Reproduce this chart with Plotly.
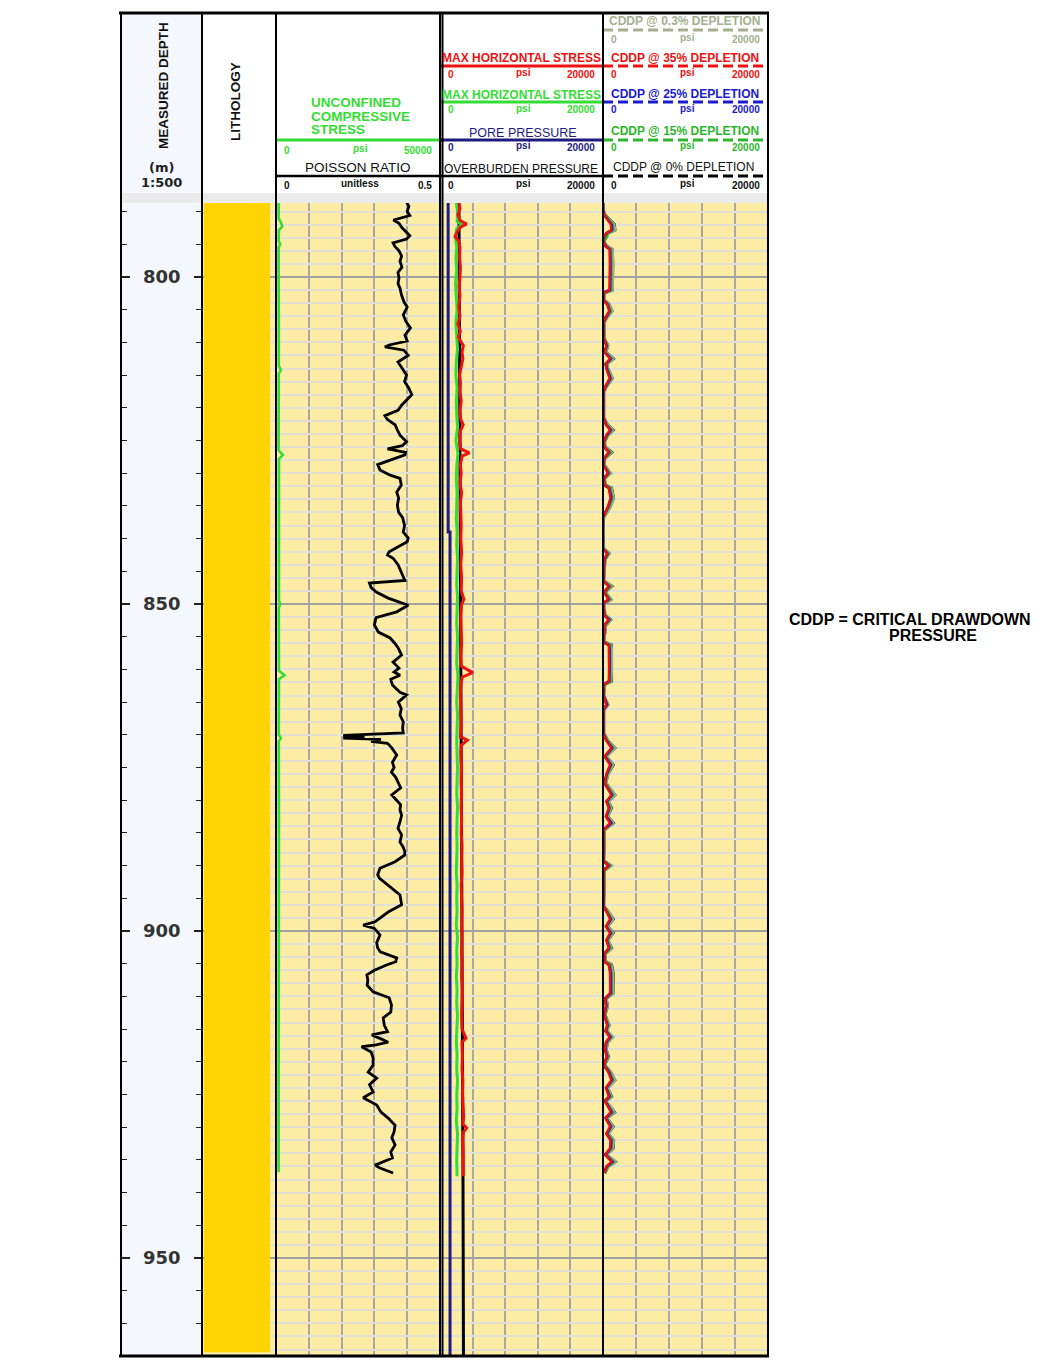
import plotly.graph_objects as go

# ---------------- data (read from the reference log) ----------------
# display window of the measured-depth axis (m)
depth_window = [788.69, 964.83]
depth_tick_major = 50
depth_tick_minor = 5

# lithology interval (single sand interval)
litho_top = [788.69]
litho_base = [964.4]

# Poisson ratio (unitless)
pr_depth = [788.5, 789.2, 790.0, 790.6, 791.3, 791.8, 792.4, 793.0, 793.7, 794.2,
            794.8, 795.3, 796.0, 796.8, 797.6, 798.5, 799.3, 800.2, 801.0, 801.7,
            802.8, 803.8, 804.6, 805.8, 806.8, 807.8, 808.9, 809.8, 810.4, 810.7,
            811.2, 812.0, 813.0, 814.0, 815.0, 816.0, 817.0, 818.0, 818.8, 819.6,
            820.4, 821.2, 821.8, 822.6, 823.4, 824.2, 825.2, 825.8, 826.3, 826.8,
            827.2, 828.0, 828.7, 829.5, 830.3, 830.8, 831.8, 832.9, 833.8, 834.9,
            836.0, 836.8, 838.0, 839.0, 839.9, 840.5, 841.0, 842.0, 842.5, 843.0,
            844.0, 845.0, 846.0, 846.4, 846.8, 847.5, 848.2, 849.1, 850.2, 851.2,
            852.1, 853.2, 854.3, 855.2, 856.0, 856.7, 857.8, 858.9, 859.8, 860.4,
            860.9, 861.5, 862.4, 863.5, 863.9, 865.0, 866.0, 867.0, 868.0, 869.0,
            869.7, 870.1, 870.3, 870.5, 870.7, 871.0, 871.3, 872.0, 873.1, 874.2,
            875.0, 875.7, 876.5, 877.2, 878.1, 879.2, 880.0, 880.7, 881.5, 882.3,
            883.3, 884.3, 885.3, 886.4, 887.2, 887.9, 888.4, 889.4, 890.4, 891.4,
            891.9, 893.0, 894.5, 896.0, 897.1, 898.6, 899.1, 899.6, 900.6, 901.8,
            902.6, 903.2, 904.1, 904.7, 905.2, 906.0, 906.7, 907.5, 908.3, 909.3,
            910.2, 911.3, 912.4, 913.3, 914.4, 915.4, 915.9, 916.5, 917.0, 917.4,
            917.7, 918.5, 919.4, 920.5, 921.6, 922.5, 923.5, 924.6, 925.5, 926.6,
            927.7, 928.6, 929.7, 930.7, 931.6, 932.7, 933.8, 934.7, 935.8, 936.2,
            937.0]
pr_value = [0.398, 0.405, 0.400, 0.408, 0.358, 0.375, 0.383, 0.395, 0.408, 0.398,
            0.357, 0.362, 0.375, 0.383, 0.378, 0.384, 0.372, 0.375, 0.372, 0.378,
            0.383, 0.390, 0.400, 0.388, 0.396, 0.410, 0.393, 0.400, 0.345, 0.332,
            0.390, 0.403, 0.372, 0.385, 0.398, 0.392, 0.405, 0.414, 0.398, 0.383,
            0.372, 0.332, 0.340, 0.363, 0.370, 0.378, 0.398, 0.385, 0.340, 0.395,
            0.393, 0.350, 0.310, 0.317, 0.348, 0.378, 0.382, 0.368, 0.374, 0.370,
            0.374, 0.386, 0.392, 0.388, 0.403, 0.400, 0.383, 0.345, 0.340, 0.357,
            0.372, 0.380, 0.388, 0.393, 0.285, 0.290, 0.307, 0.342, 0.403, 0.368,
            0.305, 0.300, 0.312, 0.348, 0.362, 0.372, 0.383, 0.357, 0.375, 0.360,
            0.378, 0.350, 0.355, 0.378, 0.398, 0.373, 0.382, 0.378, 0.388, 0.386,
            0.388, 0.205, 0.270, 0.205, 0.320, 0.290, 0.340, 0.353, 0.368, 0.355,
            0.360, 0.352, 0.365, 0.372, 0.380, 0.353, 0.368, 0.380, 0.378, 0.383,
            0.378, 0.372, 0.383, 0.378, 0.388, 0.393, 0.392, 0.363, 0.317, 0.310,
            0.315, 0.342, 0.378, 0.383, 0.342, 0.302, 0.266, 0.300, 0.317, 0.307,
            0.310, 0.318, 0.368, 0.365, 0.337, 0.300, 0.277, 0.280, 0.278, 0.296,
            0.345, 0.352, 0.350, 0.327, 0.330, 0.340, 0.292, 0.320, 0.342, 0.305,
            0.261, 0.290, 0.296, 0.296, 0.281, 0.307, 0.285, 0.296, 0.266, 0.307,
            0.320, 0.342, 0.363, 0.360, 0.353, 0.363, 0.350, 0.355, 0.302, 0.315,
            0.357]

# Unconfined compressive stress (psi)
ucs_depth = [788.7, 791.0, 791.8, 792.3, 792.8, 794.5, 795.0, 795.5, 805.0, 810.0,
             813.6, 814.2, 814.8, 826.5, 827.2, 827.8, 840.0, 849.5, 850.0, 850.5,
             860.2, 860.9, 861.5, 870.0, 870.5, 871.0, 883.0, 890.0, 895.0, 900.0,
             910.0, 920.0, 930.0, 936.9]
ucs_psi = [800, 800, 1600, 1900, 900, 800, 1300, 800, 850, 800,
           850, 1500, 850, 800, 2100, 900, 850, 900, 1400, 850,
           900, 2600, 900, 850, 1500, 850, 900, 850, 900, 850,
           800, 850, 800, 800]

# Pore pressure (psi)
pp_depth = [788.69, 839.0, 839.0, 964.83]
pp_psi = [1000, 1000, 1230, 1230]

# Overburden pressure (psi)
ob_depth = [788.69, 810.0, 840.0, 870.0, 900.0, 937.0, 964.83]
ob_psi = [2320, 2400, 2500, 2600, 2700, 2820, 2880]

# Max horizontal stress - red curve (psi)
shr_depth = [788.7, 789.5, 790.5, 791.4, 791.9, 792.4, 793.0, 793.8, 794.5, 795.5,
             797.0, 798.5, 800.0, 801.5, 803.0, 804.5, 806.0, 807.2, 808.3, 809.2,
             810.5, 811.5, 812.5, 813.5, 815.0, 816.2, 817.5, 819.0, 820.5, 821.8,
             822.6, 823.5, 825.0, 826.3, 826.9, 827.4, 828.7, 830.0, 831.5, 833.0,
             834.5, 836.0, 838.0, 840.0, 842.0, 844.0, 846.0, 848.0, 849.3, 850.0,
             852.0, 854.0, 856.0, 858.0, 859.5, 860.5, 861.2, 862.5, 864.0, 866.0,
             868.0, 870.3, 870.8, 871.6, 873.0, 875.0, 877.0, 879.0, 881.0, 883.0,
             885.0, 887.0, 889.0, 891.0, 893.0, 895.0, 897.0, 899.0, 901.0, 903.0,
             905.0, 907.0, 909.0, 911.0, 913.0, 915.0, 916.4, 917.0, 919.0, 921.0,
             923.0, 925.0, 927.0, 928.5, 929.5, 930.1, 930.8, 932.0, 934.0, 936.0,
             937.5]
shr_psi = [2300, 2450, 2200, 2500, 3270, 2500, 2150, 1840, 2300, 2450,
           2400, 2500, 2450, 2350, 2450, 2300, 2450, 2200, 2500, 2250,
           2860, 2700, 2800, 2650, 2400, 2500, 2450, 2600, 2450, 2550,
           2850, 2500, 2450, 2550, 3600, 2700, 2500, 2600, 2450, 2650,
           2500, 2550, 2600, 2550, 2650, 2550, 2650, 2600, 2940, 2650,
           2550, 2600, 2650, 2550, 2600, 4010, 2700, 2550, 2500, 2550,
           2600, 2500, 3350, 2600, 2550, 2650, 2600, 2650, 2600, 2650,
           2600, 2700, 2650, 2700, 2600, 2650, 2700, 2650, 2700, 2650,
           2700, 2650, 2750, 2700, 2650, 2700, 3190, 2700, 2750, 2700,
           2800, 2750, 2850, 2900, 2800, 3270, 2850, 2800, 2850, 2800,
           2850]

# Max horizontal stress - green curve (psi)
shg_depth = [788.7, 790.0, 791.5, 792.0, 792.6, 794.0, 795.5, 797.0, 799.0, 801.0,
             803.0, 805.0, 807.0, 809.0, 811.0, 813.0, 815.0, 817.0, 819.0, 821.0,
             823.0, 825.0, 827.0, 829.0, 831.0, 833.0, 835.0, 837.0, 839.0, 841.0,
             843.0, 845.0, 847.0, 849.0, 851.0, 853.0, 855.0, 857.0, 859.0, 861.0,
             863.0, 865.0, 867.0, 869.0, 871.0, 873.0, 875.0, 877.0, 879.0, 881.0,
             883.0, 885.0, 887.0, 889.0, 891.0, 893.0, 895.0, 897.0, 899.0, 901.0,
             903.0, 905.0, 907.0, 909.0, 911.0, 913.0, 915.0, 917.0, 919.0, 921.0,
             923.0, 925.0, 927.0, 929.0, 931.0, 933.0, 935.0, 937.5]
shg_psi = [2000, 2150, 2100, 2700, 2050, 1900, 2050, 1950, 2050, 1900,
           2000, 2100, 1950, 2050, 2150, 2000, 1950, 2100, 2000, 2050,
           2150, 1950, 2200, 2050, 2000, 2100, 2050, 2000, 2100, 2050,
           2150, 2100, 2050, 2150, 2100, 2050, 2150, 2100, 2050, 2200,
           2100, 2050, 2150, 2100, 2050, 2100, 2150, 2100, 2050, 2150,
           2100, 2050, 2100, 2050, 2000, 2100, 2050, 2100, 2000, 2150,
           2050, 2100, 2000, 2100, 2050, 2150, 2050, 2000, 2100, 2050,
           2150, 2050, 2100, 2000, 2150, 2100, 2050, 2100]

# Critical drawdown pressure curves (psi)
cddp_depth = [788.7, 789.8, 790.5, 791.3, 792.0, 792.8, 793.3, 793.8, 794.6, 795.3,
              795.8, 798.0, 800.0, 802.0, 802.4, 803.5, 804.2, 805.2, 806.2, 807.0,
              809.5, 810.5, 811.5, 812.5, 813.3, 814.0, 815.5, 816.8, 817.6, 821.5,
              822.6, 823.4, 824.2, 825.2, 826.0, 826.8, 827.7, 828.7, 830.0, 830.8,
              831.8, 832.3, 833.8, 835.1, 836.2, 836.8, 841.5, 842.3, 843.2, 846.5,
              847.3, 848.2, 849.3, 849.9, 851.7, 852.4, 853.2, 855.8, 856.3, 857.0,
              860.0, 861.8, 862.3, 864.0, 865.4, 866.2, 869.8, 870.9, 872.0, 873.3,
              874.6, 876.0, 877.4, 879.2, 880.2, 881.2, 882.5, 883.5, 884.5, 889.3,
              890.0, 890.7, 896.2, 897.2, 898.2, 899.3, 900.3, 901.4, 902.6, 903.5,
              904.7, 905.2, 906.5, 909.5, 910.3, 911.5, 912.8, 914.4, 915.3, 916.2,
              917.0, 918.2, 919.2, 920.5, 921.6, 922.8, 924.0, 925.3, 926.0, 926.8,
              927.7, 928.6, 929.9, 931.0, 932.0, 933.2, 934.2, 935.3, 936.0, 937.0]
cddp_35 = [0, 0, 150, 600, 950, 1000, 400, 100, 50, 300,
           800, 820, 800, 780, 100, 50, 500, 750, 300, 50,
           100, 400, 200, 850, 300, 400, 800, 250, 50, 50,
           350, 850, 400, 100, 150, 700, 150, 50, 600, 100,
           150, 700, 900, 600, 200, 0, 0, 500, 150, 50,
           700, 150, 650, 50, 150, 650, 200, 50, 700, 720,
           730, 700, 100, 50, 400, 50, 50, 400, 1000, 200,
           850, 400, 200, 1000, 400, 700, 350, 850, 100, 50,
           650, 100, 50, 500, 850, 350, 850, 400, 700, 150,
           200, 700, 850, 860, 250, 350, 150, 500, 300, 800,
           350, 250, 450, 100, 650, 1000, 350, 700, 200, 600,
           950, 300, 850, 400, 900, 850, 250, 1050, 400, 150]
cddp_25 = [0, 0, 150, 650, 1050, 1100, 450, 150, 50, 350,
           850, 900, 850, 850, 100, 50, 550, 800, 350, 50,
           100, 450, 200, 950, 350, 450, 900, 300, 50, 50,
           400, 950, 450, 100, 150, 750, 150, 50, 650, 100,
           150, 750, 1000, 650, 200, 0, 0, 550, 150, 50,
           750, 150, 700, 50, 150, 750, 200, 50, 750, 800,
           800, 750, 100, 50, 500, 50, 50, 450, 1100, 250,
           950, 450, 200, 1100, 450, 750, 400, 1000, 100, 50,
           700, 100, 50, 550, 950, 400, 950, 450, 750, 150,
           200, 750, 950, 950, 300, 400, 150, 550, 350, 900,
           400, 300, 500, 100, 750, 1100, 400, 800, 250, 650,
           1050, 350, 950, 450, 1000, 950, 300, 1150, 450, 150]
cddp_15 = [0, 0, 200, 700, 1150, 1200, 500, 500, 100, 350,
           950, 980, 950, 950, 150, 50, 600, 900, 350, 50,
           150, 500, 250, 1000, 350, 500, 950, 300, 50, 50,
           400, 1000, 500, 150, 200, 850, 200, 50, 700, 150,
           200, 850, 1100, 700, 250, 0, 0, 600, 200, 50,
           850, 200, 800, 50, 200, 800, 250, 50, 850, 850,
           900, 850, 150, 50, 450, 50, 50, 500, 1200, 250,
           1000, 500, 250, 1200, 500, 850, 400, 1000, 150, 50,
           800, 150, 50, 600, 1000, 400, 1000, 500, 850, 200,
           250, 850, 1000, 1050, 300, 400, 200, 600, 350, 950,
           400, 300, 550, 150, 800, 1200, 400, 850, 250, 700,
           1150, 350, 1000, 500, 1100, 1000, 300, 1250, 500, 200]
cddp_03 = [0, 50, 200, 850, 1300, 1400, 550, 250, 100, 400,
           1100, 1130, 1100, 1100, 150, 100, 700, 1050, 400, 100,
           150, 550, 300, 1150, 400, 550, 1100, 350, 100, 50,
           500, 1150, 550, 150, 200, 950, 200, 50, 850, 150,
           200, 950, 1250, 850, 300, 0, 50, 700, 200, 50,
           950, 200, 900, 100, 200, 900, 300, 50, 950, 1000,
           1000, 950, 150, 50, 550, 100, 50, 550, 1400, 300,
           1150, 550, 300, 1400, 550, 950, 500, 1150, 150, 50,
           900, 150, 50, 700, 1150, 500, 1150, 550, 950, 200,
           300, 950, 1150, 1200, 350, 500, 200, 700, 400, 1100,
           500, 350, 600, 150, 900, 1400, 500, 950, 300, 850,
           1300, 400, 1150, 550, 1250, 1150, 350, 1450, 550, 200]
cddp_00 = [0, 0, 200, 850, 1350, 1400, 550, 150, 50, 400,
           1100, 1150, 1100, 1100, 150, 50, 700, 1050, 400, 100,
           150, 550, 300, 1200, 400, 550, 1100, 350, 50, 50,
           500, 1200, 550, 150, 200, 1000, 200, 50, 850, 150,
           200, 1000, 1250, 850, 300, 0, 0, 700, 200, 50,
           1000, 200, 900, 50, 200, 900, 300, 50, 1000, 1000,
           1000, 1000, 150, 50, 550, 50, 50, 550, 1400, 300,
           1200, 550, 300, 1400, 550, 1000, 500, 1200, 150, 50,
           900, 150, 50, 700, 1200, 500, 1200, 550, 1000, 200,
           300, 1000, 1200, 1200, 350, 500, 200, 700, 400, 1100,
           500, 350, 650, 150, 900, 1400, 500, 1000, 300, 850,
           1350, 400, 1200, 550, 1250, 1200, 350, 1450, 550, 200]

assert len(pr_depth) == len(pr_value)
assert len(ucs_depth) == len(ucs_psi)
assert len(shr_depth) == len(shr_psi)
assert len(shg_depth) == len(shg_psi)
for _c in (cddp_35, cddp_25, cddp_15, cddp_03, cddp_00):
    assert len(_c) == len(cddp_depth)

# ---------------- layout helpers (pixel -> paper) ----------------
W, H = 1045, 1362


def px(x):
    return x / W


def py(y):
    return 1 - y / H


T_DEPTH = (121, 202)
T_LITH = (202, 276)
T_3 = (276, 440)
T_4 = (440, 603)
T_5 = (603, 768)
DATA_TOP, DATA_BOT = 203, 1355
HEAD_TOP, FRAME_BOT = 13, 1356

YDOM = [py(DATA_BOT), py(DATA_TOP)]
YRANGE = [depth_window[1], depth_window[0]]

SANS = "Liberation Sans, Arial, sans-serif"
DEJAVU = "DejaVu Sans, sans-serif"

C_RED = "#f01010"
C_GRN = "#33dd33"
C_GRN2 = "#2db52d"
C_NAVY = "#1c1c80"
C_BLUE = "#1a1ad0"
C_GREY = "#a3b08f"

fig = go.Figure()

# depth track dummy traces so the depth axes render
fig.add_trace(go.Scatter(x=[0.5, 0.5], y=[800, 950], xaxis="x", yaxis="y", mode="markers",
                         marker=dict(opacity=0), hoverinfo="skip", showlegend=False))
fig.add_trace(go.Scatter(x=[0.5, 0.5], y=[800, 950], xaxis="x", yaxis="y2", mode="markers",
                         marker=dict(opacity=0), hoverinfo="skip", showlegend=False))

# lithology (sand)
fig.add_trace(go.Scatter(x=[0.027, 0.919, 0.919, 0.027, 0.027],
                         y=[litho_top[0], litho_top[0], litho_base[0], litho_base[0], litho_top[0]],
                         xaxis="x2", yaxis="y3", fill="toself", fillcolor="#FFD400",
                         line=dict(width=0), mode="lines", hoverinfo="skip", showlegend=False))

# track 3
fig.add_trace(go.Scatter(x=ucs_psi, y=ucs_depth, xaxis="x4", yaxis="y3", mode="lines",
                         line=dict(color=C_GRN, width=2.6), name="UCS", showlegend=False))
fig.add_trace(go.Scatter(x=pr_value, y=pr_depth, xaxis="x3", yaxis="y3", mode="lines",
                         line=dict(color="#000000", width=2.8), name="Poisson ratio", showlegend=False))

# track 4
fig.add_trace(go.Scatter(x=pp_psi, y=pp_depth, xaxis="x5", yaxis="y3", mode="lines",
                         line=dict(color=C_NAVY, width=3), name="Pore pressure", showlegend=False))
fig.add_trace(go.Scatter(x=ob_psi, y=ob_depth, xaxis="x5", yaxis="y3", mode="lines",
                         line=dict(color="#000000", width=3), name="Overburden", showlegend=False))
fig.add_trace(go.Scatter(x=shg_psi, y=shg_depth, xaxis="x5", yaxis="y3", mode="lines",
                         line=dict(color=C_GRN, width=3), name="SHmax green", showlegend=False))
fig.add_trace(go.Scatter(x=shr_psi, y=shr_depth, xaxis="x5", yaxis="y3", mode="lines",
                         line=dict(color=C_RED, width=3), name="SHmax red", showlegend=False))

# track 5 (CDDP)
for vals, col, nm, lw in [(cddp_00, "#111111", "CDDP 0%", 3.6), (cddp_03, C_GREY, "CDDP 0.3%", 3.6),
                          (cddp_15, C_GRN2, "CDDP 15%", 3.0), (cddp_25, C_BLUE, "CDDP 25%", 2.6),
                          (cddp_35, C_RED, "CDDP 35%", 2.4)]:
    fig.add_trace(go.Scatter(x=vals, y=cddp_depth, xaxis="x6", yaxis="y3", mode="lines",
                             line=dict(color=col, width=lw), name=nm, showlegend=False))

hidden_x = dict(showticklabels=False, ticks="", showline=False, zeroline=False, fixedrange=True)
grid_minor_x = dict(showgrid=True, gridcolor="#a9a9a9", gridwidth=1.6, ticks="")

layout = dict(
    width=W, height=H, autosize=False,
    margin=dict(l=0, r=0, t=0, b=0),
    paper_bgcolor="white", plot_bgcolor="rgba(0,0,0,0)",
    showlegend=False,
    xaxis=dict(domain=[px(T_DEPTH[0]), px(T_DEPTH[1])], range=[0, 1], visible=False, anchor="y"),
    yaxis=dict(domain=YDOM, range=YRANGE, autorange=False, anchor="x", side="right",
               ticks="inside", ticklen=8, tickwidth=1.5, tickcolor="#222",
               dtick=depth_tick_major, tick0=0, ticklabelposition="inside",
               ticklabelstandoff=14,
               tickfont=dict(family=DEJAVU, size=18, color="#333", weight="bold"),
               minor=dict(dtick=depth_tick_minor, tick0=0, ticks="inside", ticklen=6,
                          tickwidth=1.3, tickcolor="#222", showgrid=False),
               showgrid=False, zeroline=False, showline=False, fixedrange=True),
    yaxis2=dict(domain=YDOM, range=YRANGE, autorange=False, anchor="x", side="left",
                overlaying="y", matches="y",
                ticks="inside", ticklen=9, tickwidth=1.5, tickcolor="#222",
                dtick=depth_tick_major, tick0=0, showticklabels=False,
                minor=dict(dtick=depth_tick_minor, tick0=0, ticks="inside", ticklen=6,
                           tickwidth=1.3, tickcolor="#222", showgrid=False),
                showgrid=False, zeroline=False, showline=False, fixedrange=True),
    yaxis3=dict(domain=YDOM, range=YRANGE, autorange=False, anchor="x3", matches="y",
                showticklabels=False, ticks="", showline=False, zeroline=False,
                dtick=depth_tick_major, tick0=0, showgrid=True, gridcolor="#a0a0a0", gridwidth=1.6,
                minor=dict(dtick=2, tick0=0, showgrid=True, gridcolor="#e3e0d6", gridwidth=2.2,
                           ticks=""),
                fixedrange=True),
    xaxis2=dict(domain=[px(T_LITH[0]), px(T_LITH[1])], range=[0, 1], anchor="y3",
                showgrid=False, **hidden_x),
    xaxis3=dict(domain=[px(T_3[0]), px(T_3[1])], range=[0, 0.5], anchor="y3",
                dtick=0.5, tick0=0, showgrid=False, minor=dict(dtick=0.1, tick0=0, **grid_minor_x),
                **hidden_x),
    xaxis4=dict(range=[0, 50000], overlaying="x3", anchor="y3", visible=False, showgrid=False),
    xaxis5=dict(domain=[px(T_4[0]), px(T_4[1])], range=[0, 20000], anchor="y3",
                dtick=20000, tick0=0, showgrid=False, minor=dict(dtick=4000, tick0=0, **grid_minor_x),
                **hidden_x),
    xaxis6=dict(domain=[px(T_5[0]), px(T_5[1])], range=[0, 20000], anchor="y3",
                dtick=20000, tick0=0, showgrid=False, minor=dict(dtick=4000, tick0=0, **grid_minor_x),
                **hidden_x),
)
fig.update_layout(**layout)

shapes = []


def rect(x0, x1, y0, y1, color, layer="below"):
    shapes.append(dict(type="rect", xref="paper", yref="paper", x0=px(x0), x1=px(x1),
                       y0=py(y1), y1=py(y0), fillcolor=color, line=dict(width=0), layer=layer))


def hline(x0, x1, y, color, width, dash="solid", layer="above"):
    shapes.append(dict(type="line", xref="paper", yref="paper", x0=px(x0), x1=px(x1),
                       y0=py(y), y1=py(y), line=dict(color=color, width=width, dash=dash), layer=layer))


def vline(x, y0, y1, color="#000", width=2, layer="above"):
    shapes.append(dict(type="line", xref="paper", yref="paper", x0=px(x), x1=px(x),
                       y0=py(y0), y1=py(y1), line=dict(color=color, width=width), layer=layer))


# backgrounds
rect(T_DEPTH[0], T_DEPTH[1], HEAD_TOP, FRAME_BOT, "#f4f8fc")
rect(T_DEPTH[0], T_5[1], 193, DATA_TOP, "#ebebeb")
rect(T_LITH[0], T_5[1], DATA_TOP, DATA_BOT, "#fdeca3")

# header curve lines
hline(T_3[0], T_3[1], 140, C_GRN, 3)
hline(T_3[0], T_3[1], 176, "#000", 2.5)
hline(T_4[0], T_4[1], 66, C_RED, 3)
hline(T_4[0], T_4[1], 102, C_GRN, 3)
hline(T_4[0], T_4[1], 140, C_NAVY, 3)
hline(T_4[0], T_4[1], 176, "#000", 2.5)
DASH = "10px,5px"
hline(T_5[0], T_5[1], 30, C_GREY, 3, DASH)
hline(T_5[0], T_5[1], 66, C_RED, 3, DASH)
hline(T_5[0], T_5[1], 102, C_BLUE, 3, DASH)
hline(T_5[0], T_5[1], 140, C_GRN2, 3, DASH)
hline(T_5[0], T_5[1], 176, "#000", 3, DASH)

# track borders and frame
for xb in (T_DEPTH[0], T_DEPTH[1], T_LITH[1], T_3[1], T_3[1] + 2.5, T_4[1], T_5[1]):
    vline(xb, HEAD_TOP, FRAME_BOT)
hline(119, 769, HEAD_TOP, "#000", 3)
hline(119, 769, FRAME_BOT, "#000", 3)

fig.update_layout(shapes=shapes)

ann = []


def text(x, y, s, size=12, color="#000", bold=True, xanchor="center", family=SANS, angle=0):
    ann.append(dict(xref="paper", yref="paper", x=px(x), y=py(y), text=s, showarrow=False,
                    xanchor=xanchor, yanchor="middle", textangle=angle,
                    font=dict(family=family, size=size, color=color,
                              weight="bold" if bold else "normal")))


def scale_row(x0, x1, y, left, unit, right, color, size=10):
    text(x0 + 6, y, left, size, color, True, "left")
    text((x0 + x1) / 2 + 2, y - 1.5, unit, size, color, True, "center")
    text(x1 - 6, y, right, size, color, True, "right")


# depth / lithology headers
text(163, 86, "MEASURED DEPTH", 13.5, "#111", True, angle=-90)
text(161, 168, "(m)", 13, "#222", True, family=DEJAVU)
text(161, 182, "1:500", 13, "#222", True, family=DEJAVU)
text(235, 102, "LITHOLOGY", 13.5, "#111", True, angle=-90)

# track 3 header
text(309, 102.5, "UNCONFINED", 13.5, C_GRN, True, "left")
text(309, 116, "COMPRESSIVE", 13.5, C_GRN, True, "left")
text(309, 129.5, "STRESS", 13.5, C_GRN, True, "left")
scale_row(T_3[0], T_3[1], 150.5, "0", "psi", "50000", C_GRN)
text(358, 167.5, "POISSON RATIO", 13.5, "#111", False)
scale_row(T_3[0], T_3[1], 185, "0", "unitless", "0.5", "#111")

# track 4 header
text(521, 58.5, "MAX HORIZONTAL STRESS", 12, C_RED, True)
scale_row(T_4[0], T_4[1], 74.5, "0", "psi", "20000", C_RED)
text(521, 95, "MAX HORIZONTAL STRESS", 12, C_GRN, True)
scale_row(T_4[0], T_4[1], 110, "0", "psi", "20000", C_GRN)
text(523, 132.5, "PORE PRESSURE", 12.5, C_NAVY, False)
scale_row(T_4[0], T_4[1], 147.5, "0", "psi", "20000", C_NAVY)
text(521, 168.5, "OVERBURDEN PRESSURE", 12, "#111", False)
scale_row(T_4[0], T_4[1], 185, "0", "psi", "20000", "#111")

# track 5 header
text(685, 21.5, "CDDP @ 0.3% DEPLETION", 12, C_GREY, True)
scale_row(T_5[0], T_5[1], 39.5, "0", "psi", "20000", C_GREY)
text(685, 58.5, "CDDP @ 35% DEPLETION", 12, C_RED, True)
scale_row(T_5[0], T_5[1], 74.5, "0", "psi", "20000", C_RED)
text(685, 93.5, "CDDP @ 25% DEPLETION", 12, C_BLUE, True)
scale_row(T_5[0], T_5[1], 110, "0", "psi", "20000", C_BLUE)
text(685, 131, "CDDP @ 15% DEPLETION", 12, C_GRN2, True)
scale_row(T_5[0], T_5[1], 147.5, "0", "psi", "20000", C_GRN2)
text(683, 167, "CDDP @ 0% DEPLETION", 12, "#111", False)
scale_row(T_5[0], T_5[1], 185, "0", "psi", "20000", "#111")

# side note
text(909.5, 619, "CDDP = CRITICAL DRAWDOWN", 16, "#000", True)
text(933, 635, "PRESSURE", 16, "#000", True)

fig.update_layout(annotations=ann)

fig.write_html("out.html", config=dict(displayModeBar=False),
               post_script="document.body.style.margin='0px';")
